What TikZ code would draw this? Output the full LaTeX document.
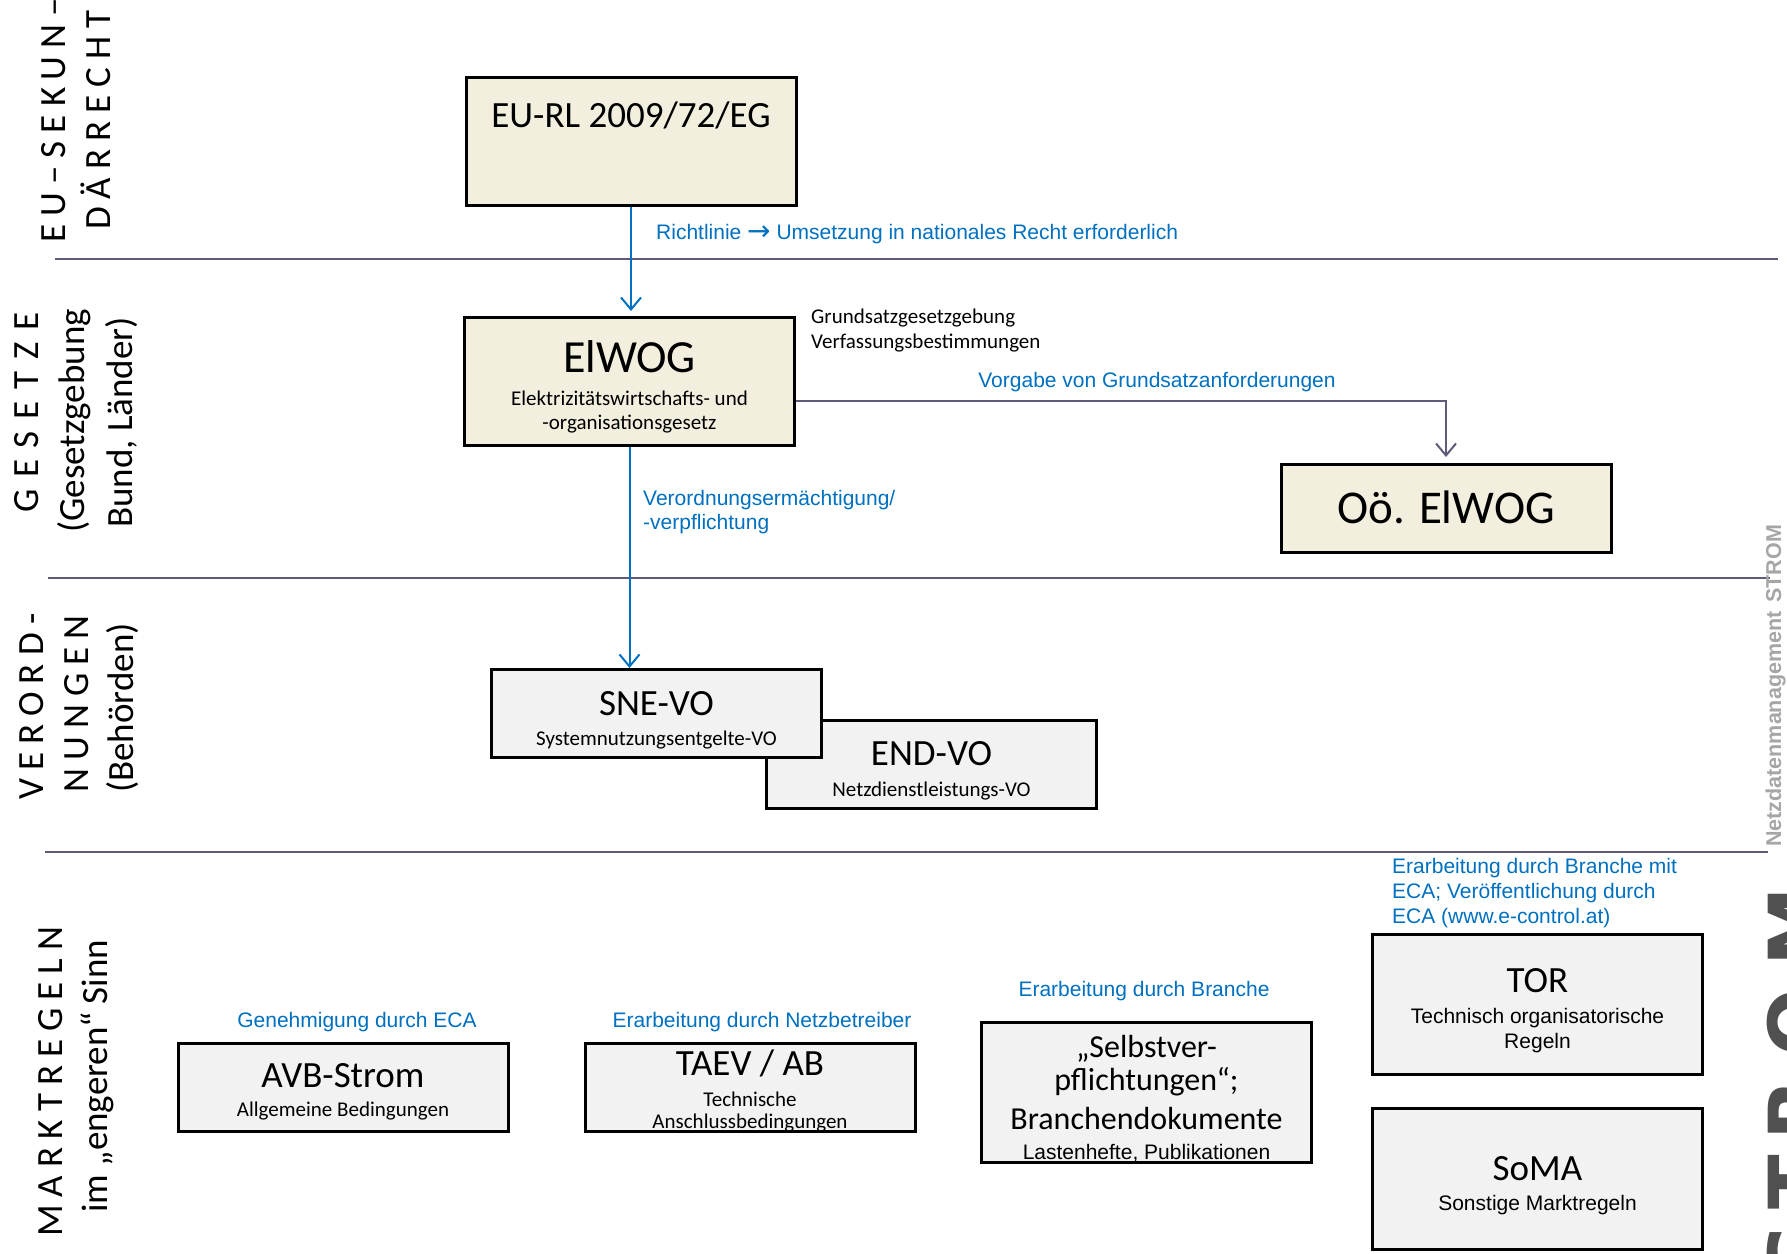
\documentclass[tikz,border=0pt]{standalone}
\usepackage{fontspec}
\setmainfont{Carlito}
\newfontfamily\arialf{Liberation Sans}
\newfontfamily\arrowf{DejaVu Sans}
\newfontfamily\capsA[LetterSpace=22]{Carlito}
\newfontfamily\capsB[LetterSpace=32]{Carlito}
\newfontfamily\wmfont{Liberation Sans}
\newfontfamily\logofont{DejaVu Sans}
\usetikzlibrary{arrows.meta}
\definecolor{beigeC}{RGB}{242,239,223}
\definecolor{greyC}{RGB}{242,242,242}
\definecolor{blueC}{RGB}{0,112,192}
\definecolor{sepC}{RGB}{96,90,122}
\definecolor{wmC}{RGB}{166,166,166}
\definecolor{logoC}{RGB}{80,80,80}
\begin{document}
\begin{tikzpicture}[x=1pt,y=-1pt,
  box/.style={draw=black,line width=3pt,minimum width=330pt,inner sep=0pt},
  beigebox/.style={box,fill=beigeC},
  greybox/.style={box,fill=greyC},
  big/.style={anchor=base,inner sep=0pt,font=\fontsize{37}{44}\selectfont},
  mid/.style={anchor=base,inner sep=0pt,font=\fontsize{32}{38}\selectfont},
  sub/.style={anchor=base,inner sep=0pt,font=\fontsize{21}{26}\selectfont},
  asub/.style={anchor=base,inner sep=0pt,font=\arialf\fontsize{21}{26}\selectfont},
  bluelbl/.style={inner sep=0pt,font=\arialf\fontsize{21}{25}\selectfont,text=blueC},
  sideA/.style={rotate=90,anchor=base west,inner sep=0pt,font=\capsA\fontsize{37}{44}\selectfont},
  sideB/.style={rotate=90,anchor=base west,inner sep=0pt,font=\capsB\fontsize{37}{44}\selectfont},
  sideL/.style={rotate=90,anchor=base west,inner sep=0pt,font=\fontsize{37}{44}\selectfont},
  sepline/.style={draw=sepC,line width=2.5pt},
  bluearrow/.style={draw=blueC,line width=2pt,-{Straight Barb[length=12pt,width=20pt]}},
  greyarrow/.style={draw=sepC,line width=2pt,-{Straight Barb[length=12pt,width=20pt]}},
]
\useasboundingbox (0,0) rectangle (1787,1253);
\fill[white] (0,0) rectangle (1787,1253);

% separators
\draw[sepline] (55,259) -- (1778,259);
\draw[sepline] (48,578) -- (1770,578);
\draw[sepline] (45,852) -- (1768,852);

% side labels
\node[sideA] (l1a) at (65,243) {EU–SEKUN–};
\node[sideA] (l1b) at (110,230) {DÄRRECHT};
\node[sideB] (l2a) at (38,513) {GESETZE};
\node[sideL] (l2b) at (84,533) {(Gesetzgebung};
\node[sideL] (l2c) at (132,528) {Bund, Länder)};
\node[sideA] (l3a) at (43,800) {VERORD-};
\node[sideA] (l3b) at (88,793) {NUNGEN};
\node[sideL] (l3c) at (133,793) {(Behörden)};
\node[sideA] (l4a) at (62,1237) {MARKTREGELN};
\node[sideL] (l4b) at (107,1213) {im „engeren“ Sinn};

% EU level
\node[beigebox,minimum height=128pt] (eurl) at (631,141.5) {};
\node[big] (eurlt) at (631,127) {EU-RL 2009/72/EG};
\node[bluelbl,anchor=base west] (richt) at (656,239) {Richtlinie {\arrowf\fontsize{28}{25}\selectfont\raisebox{-1pt}{→}} Umsetzung in nationales Recht erforderlich};

% Gesetze
\node[beigebox,minimum height=128pt] (elwog) at (629.5,381.5) {};
\node[anchor=base,inner sep=0pt,font=\fontsize{46}{50}\selectfont] (elwogt) at (629.5,372) {ElWOG};
\node[sub] (elwogs1) at (629.5,405) {Elektrizitätswirtschafts- und};
\node[sub] (elwogs2) at (629.5,429) {-organisationsgesetz};
\node[sub,anchor=base west] (grund1) at (811,323) {Grundsatzgesetzgebung};
\node[sub,anchor=base west] (grund2) at (811,348) {Verfassungsbestimmungen};
\node[bluelbl,anchor=base] (vorg) at (1157,387) {Vorgabe von Grundsatzanforderungen};
\node[beigebox,minimum height=88pt] (oo) at (1446,508.5) {};
\node[anchor=base,inner sep=0pt,font=\fontsize{47}{52}\selectfont] (oot) at (1446,523) {Oö. ElWOG};
\node[bluelbl,anchor=base west] (verord1) at (643,505) {Verordnungsermächtigung/};
\node[bluelbl,anchor=base west] (verord2) at (643,529) {-verpflichtung};

% Verordnungen
\node[greybox,minimum height=88pt] (endvo) at (931.5,764.5) {};
\node[big] (endvot) at (931.5,765) {END-VO};
\node[sub] (endvos) at (931.5,796) {Netzdienstleistungs-VO};
\node[greybox,minimum height=88pt] (snevo) at (656.5,713.5) {};
\node[big] (snevot) at (656.5,715) {SNE-VO};
\node[sub] (snevos) at (656.5,745) {Systemnutzungsentgelte-VO};

% Marktregeln
\node[bluelbl,anchor=base] (genh) at (357,1027) {Genehmigung durch ECA};
\node[greybox,minimum height=88pt] (avb) at (343,1087.5) {};
\node[big] (avbt) at (343,1087) {AVB-Strom};
\node[sub] (avbs) at (343,1116) {Allgemeine Bedingungen};

\node[bluelbl,anchor=base] (erarbn) at (762,1027) {Erarbeitung durch Netzbetreiber};
\node[greybox,minimum height=88pt] (taev) at (750,1087.5) {};
\node[big] (taevt) at (750,1075) {TAEV / AB};
\node[sub] (taevs1) at (750,1106) {Technische};
\node[sub] (taevs2) at (750,1128) {Anschlussbedingungen};

\node[bluelbl,anchor=base] (erarbb) at (1144,996) {Erarbeitung durch Branche};
\node[greybox,minimum height=140pt] (selbst) at (1146.5,1092.5) {};
\node[mid] (selbst1) at (1146.5,1057) {„Selbstver-};
\node[mid] (selbst2) at (1146.5,1090) {pflichtungen“;};
\node[mid] (selbst3) at (1146.5,1129) {Branchendokumente};
\node[asub] (selbst4) at (1146.5,1159) {Lastenhefte, Publikationen};

\node[bluelbl,anchor=base west] (torl1) at (1392,873) {Erarbeitung durch Branche mit};
\node[bluelbl,anchor=base west] (torl2) at (1392,898) {ECA; Veröffentlichung durch};
\node[bluelbl,anchor=base west] (torl3) at (1392,923) {ECA (www.e-control.at)};
\node[greybox,minimum height=140pt] (tor) at (1537.5,1004.5) {};
\node[big] (tort) at (1537.5,992) {TOR};
\node[asub] (tors1) at (1537.5,1023) {Technisch organisatorische};
\node[asub] (tors2) at (1537.5,1048) {Regeln};

\node[greybox,minimum height=141pt] (soma) at (1537.5,1179) {};
\node[big] (somat) at (1537.5,1180) {SoMA};
\node[asub] (somas) at (1537.5,1210) {Sonstige Marktregeln};

% connectors
\draw[bluearrow,shorten >=5pt] (eurl.south) -- (eurl.south |- elwog.north);
\draw[bluearrow] (elwog.south) -- (elwog.south |- snevo.north);
\draw[greyarrow,shorten >=6pt] ([yshift=-19.5pt]elwog.east) -| (oo.north);

% watermark
\node[rotate=90,anchor=base west,inner sep=0pt,font=\wmfont\bfseries\fontsize{21.5}{24}\selectfont,text=wmC] (wm) at (1781,847) {Netzdatenmanagement\hspace{3pt} STROM};
\begin{scope}
\clip (0,0) rectangle (1787,1253);
\node[rotate=90,anchor=north east,inner sep=0pt,font=\logofont\bfseries\fontsize{80}{80}\selectfont,text=logoC] (logo) at (1767,887) {S\kern14pt T\kern14pt R\kern22pt O\kern22pt M};
\end{scope}
\end{tikzpicture}
\end{document}
